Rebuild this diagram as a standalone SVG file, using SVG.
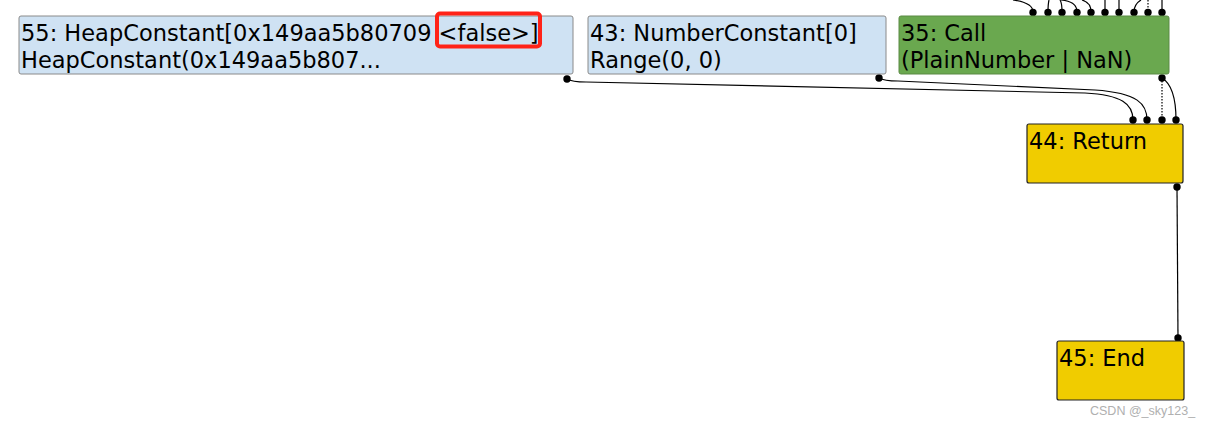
<svg xmlns="http://www.w3.org/2000/svg" width="1215" height="427" viewBox="0 0 1215 427">
<defs>
<style>
.node text{font-family:"DejaVu Sans",sans-serif;font-size:22.5px;fill:#000}
.blue{fill:#cfe2f3;stroke:#8a8a8a;stroke-width:1}
.green{fill:#6aa84f;stroke:#5b8a45;stroke-width:1}
.yellow{fill:#f0cc00;stroke:#222;stroke-width:1.2}
.edges path{fill:none;stroke:#000;stroke-width:1.2}
.edges path.dot{stroke-dasharray:1.5 1.5}
.edges circle{fill:#000}
</style>
</defs>
<rect width="1215" height="427" fill="#fff"/>
<g class="edges" id="connectors">
<path d="M1013,0 C1028,2 1033,6 1033,12"/>
<path d="M1049,0 C1048,4 1048,8 1048,12"/>
<path d="M1060,0 C1062,3 1062,7 1062,12"/>
<path d="M1061,0 C1072,1 1077,5 1077,12"/>
<path d="M1082,0 C1089,2 1091,6 1091,12"/>
<path d="M1105,0 L1105,12"/>
<path d="M1119,0 L1119,12"/>
<path d="M1141,0 C1136,3 1134,7 1134,12"/>
<path class="dot" d="M1148,0 L1148,12"/>
<path d="M1162,0 L1162,12"/>
<circle cx="1033" cy="12.5" r="3.7"/><circle cx="1048" cy="12.5" r="3.7"/><circle cx="1062" cy="12.5" r="3.7"/><circle cx="1077" cy="12.5" r="3.7"/><circle cx="1091" cy="12.5" r="3.7"/><circle cx="1105" cy="12.5" r="3.7"/><circle cx="1119" cy="12.5" r="3.7"/><circle cx="1134" cy="12.5" r="3.7"/><circle cx="1148" cy="12.5" r="3.7"/><circle cx="1162" cy="12.5" r="3.7"/>
<path d="M567,79 C572,82 578,82 586,82 L1085,93 C1122,95 1133,104 1133,120"/>
<path d="M879,78 C884,81 890,81 898,81 L1095,90 C1138,93 1147,104 1147,120"/>
<path class="dot" d="M1162,78 L1162,120"/>
<path d="M1162,78 C1172,84 1176,98 1176,120"/>
<circle cx="567" cy="79" r="3.7"/><circle cx="879" cy="78" r="3.7"/><circle cx="1162" cy="78" r="3.7"/>
<circle cx="1133" cy="120" r="3.7"/><circle cx="1147" cy="120" r="3.7"/><circle cx="1162" cy="120" r="3.7"/><circle cx="1176" cy="120" r="3.7"/>
<path d="M1177,187 L1178,338"/>
<circle cx="1177" cy="187" r="3.7"/><circle cx="1178" cy="338" r="3.7"/>
</g>
<g class="node" id="n55">
<rect class="blue" x="19" y="16" width="554" height="58" rx="2"/>
<text x="21" y="41">55: HeapConstant[0x149aa5b80709 &lt;false&gt;]</text>
<text x="21" y="68">HeapConstant(0x149aa5b807...</text>
</g>
<g class="node" id="n43">
<rect class="blue" x="588" y="16" width="298" height="58" rx="2"/>
<text x="590" y="41">43: NumberConstant[0]</text>
<text x="590" y="68">Range(0, 0)</text>
</g>
<g class="node" id="n35">
<rect class="green" x="899" y="16" width="270" height="58" rx="2"/>
<text x="901" y="41">35: Call</text>
<text x="901" y="68">(PlainNumber | NaN)</text>
</g>
<g class="node" id="n44">
<rect class="yellow" x="1027" y="124" width="156" height="59" rx="2"/>
<text x="1029" y="149">44: Return</text>
</g>
<g class="node" id="n45">
<rect class="yellow" x="1057" y="341" width="127" height="59" rx="2"/>
<text x="1059" y="366">45: End</text>
</g>
<rect x="437" y="13.5" width="103" height="33" rx="3" fill="none" stroke="#ff2318" stroke-width="4"/>
<text x="1090" y="415" font-family="Liberation Sans, sans-serif" font-size="12.5" fill="#b0b0b0">CSDN @_sky123_</text>
</svg>
